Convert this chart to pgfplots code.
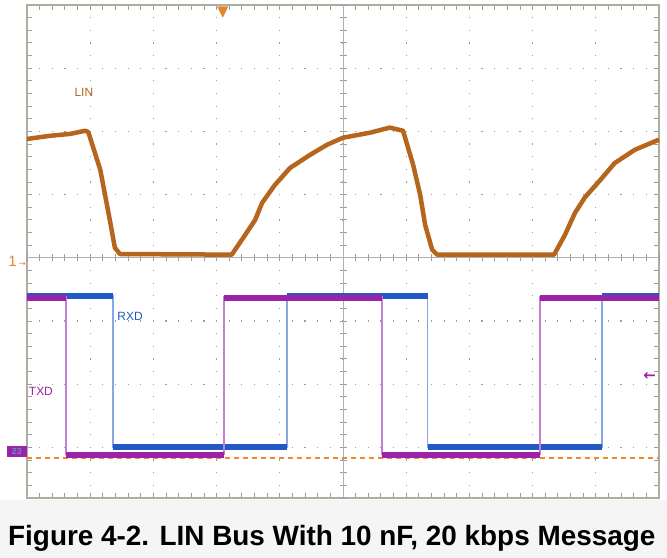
\documentclass[border=0pt]{standalone}
\usepackage{pgfplots}
\pgfplotsset{compat=1.18}
\usepackage{fontspec}
\setmainfont{Liberation Sans}
\newfontfamily\symfont{DejaVu Sans}

\definecolor{linc}{HTML}{B5661C}
\definecolor{txdc}{HTML}{9C22A8}
\definecolor{txdedge}{HTML}{C77FD6}
\definecolor{rxdc}{HTML}{2259C4}
\definecolor{rxdedge}{HTML}{86A9E3}
\definecolor{refc}{HTML}{F08A26}
\definecolor{markc}{HTML}{E0872C}
\definecolor{gridc}{HTML}{9C9C9C}
\definecolor{framec}{HTML}{ADADA0}

% scope screen: x and y in divisions, 0 at the centre
\pgfplotsset{scope screen/.style={
    at={(27bp,60bp)}, anchor=south west,
    scale only axis, width=632bp, height=493bp,
    xmin=-5, xmax=5, ymin=-3.8, ymax=4,
    xtick={-5,...,5}, ytick={-3,...,4},
    minor xtick={-5,-4.8,...,5.01},
    minor ytick={-3.8,-3.6,...,4.01},
    xticklabels={}, yticklabels={},
    every tick/.style={gridc, line width=0.9bp},
}}

\begin{document}
\begin{tikzpicture}[x=1bp,y=1bp]
\fill[white] (0,0) rectangle (667,558);
\fill[black!4] (0,0) rectangle (667,58);

% graticule and frame
\begin{axis}[
    scope screen,
    tick align=inside,
    major tick length=5bp, minor tick length=5bp,
    grid=major,
    major grid style={gridc, line width=1.2bp,
        dash pattern=on 1.2bp off 11.44bp, dash phase=0.6bp},
    axis line style={framec, line width=1.3bp},
]
\end{axis}

% centre lines and traces
\begin{axis}[
    scope screen,
    axis lines=middle,
    axis line style={-, gridc!80, line width=1bp},
    every inner x axis line/.append style={-},
    every inner y axis line/.append style={-},
    tick align=center,
    major tick length=7bp, minor tick length=7bp,
    clip=false,
    unbounded coords=jump,
]
% reference level
\addplot[color=refc, line width=2bp, dash pattern=on 5bp off 4bp] coordinates {
    (-5,-3.16) (5,-3.16)
};

% RXD edges (thin) and levels (thick)
\addplot[rxdedge, line width=1.5bp] coordinates {
    (-5,-0.60) (-3.64,-0.60) (-3.64,-2.99) (-0.89,-2.99) (-0.89,-0.60)
    (1.34,-0.60) (1.34,-2.99) (4.10,-2.99) (4.10,-0.60) (5,-0.60)
};
\addplot[rxdc, line width=6bp] coordinates {
    (-5,-0.60) (-3.64,-0.60) (-3.64,nan)
    (-3.64,-2.99) (-0.89,-2.99) (-0.89,nan)
    (-0.89,-0.60) (1.34,-0.60) (1.34,nan)
    (1.34,-2.99) (4.10,-2.99) (4.10,nan)
    (4.10,-0.60) (5,-0.60)
};

% TXD edges (thin) and levels (thick)
\addplot[txdedge, line width=1.5bp] coordinates {
    (-5,-0.62) (-4.38,-0.62) (-4.38,-3.11) (-1.88,-3.11) (-1.88,-0.62)
    (0.62,-0.62) (0.62,-3.11) (3.12,-3.11) (3.12,-0.62) (5,-0.62)
};
\addplot[txdc, line width=6bp] coordinates {
    (-5,-0.63) (-4.38,-0.63) (-4.38,nan)
    (-4.38,-3.12) (-1.88,-3.12) (-1.88,nan)
    (-1.88,-0.63) (0.62,-0.63) (0.62,nan)
    (0.62,-3.12) (3.12,-3.12) (3.12,nan)
    (3.12,-0.63) (5,-0.63)
};

% LIN bus
\addplot[linc, line width=4.5bp, line join=round] coordinates {
    (-5.00,1.88) (-4.64,1.93) (-4.32,1.96) (-4.08,2.01) (-4.03,1.99)
    (-3.84,1.39) (-3.69,0.60) (-3.61,0.16) (-3.53,0.06)
    (-1.76,0.05) (-1.55,0.36) (-1.39,0.60) (-1.28,0.87) (-1.08,1.15)
    (-0.84,1.42) (-0.52,1.63) (-0.25,1.79) (0.00,1.90) (0.43,1.98)
    (0.74,2.06) (0.95,2.01) (1.11,1.47) (1.22,1.00) (1.30,0.52)
    (1.41,0.13) (1.49,0.05) (3.34,0.05) (3.51,0.36) (3.67,0.71)
    (3.83,0.96) (4.07,1.23) (4.30,1.50) (4.62,1.71) (5.00,1.87)
};

% trace labels
\node[text=linc, font=\fontsize{12}{12}\selectfont] at (axis cs:-4.10,2.61) {LIN};
\node[text=rxdc, font=\fontsize{12}{12}\selectfont] at (axis cs:-3.37,-0.93) {RXD};
\node[text=txdc, font=\fontsize{12}{12}\selectfont] at (axis cs:-4.78,-2.12) {TXD};

% channel and trigger indicators
\node[text=markc, font=\symfont\fontsize{15}{15}\selectfont, anchor=north, inner sep=0]
    at (axis cs:-1.90,3.98) {▼};
\node[text=markc, anchor=east, inner sep=1bp, font=\fontsize{15}{15}\selectfont]
    at (axis cs:-5,-0.05) {1\,{\symfont\fontsize{8}{8}\selectfont →}};
\node[fill=txdc, text=rxdc!70, anchor=east, inner sep=0, minimum width=20bp,
    minimum height=11bp, font=\bfseries\fontsize{9}{9}\selectfont]
    at (axis cs:-5,-3.07) {23};
\node[text=txdc, font=\symfont\bfseries\fontsize{15}{15}\selectfont, inner sep=0]
    at (axis cs:4.85,-1.87) {←};
\end{axis}

% caption
\node[anchor=base west, inner sep=0, font=\bfseries\fontsize{28}{28}\selectfont]
    at (8,12) {Figure 4-2. LIN Bus With 10 nF, 20 kbps Message};

\pgfresetboundingbox
\useasboundingbox (0,0) rectangle (667,558);
\end{tikzpicture}
\end{document}
